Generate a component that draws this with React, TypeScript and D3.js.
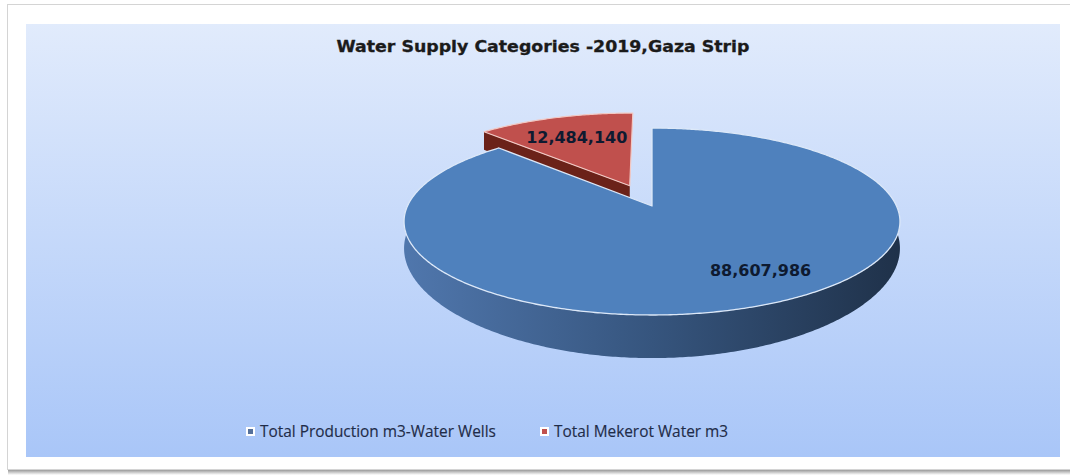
import React from 'react';
import * as d3 from 'd3';

// data
const categories = ['Total Production m3-Water Wells', 'Total Mekerot Water m3'];
const values = [88607986, 12484140];
const title = 'Water Supply Categories -2019,Gaza Strip';

const W = 1070;
const H = 475;

// projected-disc parameters (perspective look of the Excel 3D pie)
const cx = 652;
const cy = 206;
const A = 244.5;
const B = 90.9;
const k = 0.166;
const depth = 25;
const k2 = 0.42;

type Off = { u: number; v: number };

const proj = (theta: number, r: number, h: number, off: Off): [number, number] => {
  const u = off.u + r * Math.sin(theta);
  const v = off.v + r * Math.cos(theta);
  const w = 1 + k * v;
  return [cx + (A * u) / w, cy - (B * v) / w + (depth * h) / (1 + k2 * v)];
};

const arcPts = (a0: number, a1: number, h: number, off: Off) => {
  const n = Math.max(4, Math.ceil(Math.abs(a1 - a0) / 0.01));
  return d3.range(n + 1).map((i) => proj(a0 + ((a1 - a0) * i) / n, 1, h, off));
};

const line = d3.line<[number, number]>();

export default function App() {
  const pie = d3.pie<number>().sort(null)(values);
  const explode = [0, 0.25];
  const offs: Off[] = pie.map((p, i) => {
    const mid = (p.startAngle + p.endAngle) / 2;
    return { u: explode[i] * Math.sin(mid), v: explode[i] * Math.cos(mid) };
  });
  const color = d3.scaleOrdinal<number, string>().domain([0, 1]).range(['#4f81bd', '#c0504d']);
  const fmt = d3.format(',');

  const topPath = (i: number) => {
    const p = pie[i];
    const pts = [proj(0, 0, 0, offs[i]), ...arcPts(p.startAngle, p.endAngle, 0, offs[i])];
    return line(pts) + 'Z';
  };

  // front outer wall of the big slice
  const wallPath = (i: number) => {
    const p = pie[i];
    const a0 = Math.max(p.startAngle, Math.PI / 2);
    const a1 = Math.min(p.endAngle, (3 * Math.PI) / 2);
    if (a1 <= a0) return null;
    const pts = [...arcPts(a0, a1, 0, offs[i]), ...arcPts(a1, a0, 1, offs[i])];
    return line(pts) + 'Z';
  };

  // radial cut face of the exploded slice (start edge)
  const cutPath = (i: number) => {
    const p = pie[i];
    const a = p.startAngle;
    const pts = [
      proj(a, 0, 0, offs[i]),
      proj(a, 1, 0, offs[i]),
      proj(a, 1, 1, offs[i]),
      proj(a, 0, 1, offs[i]),
    ];
    return line(pts) + 'Z';
  };

  const labelPos = [
    proj((pie[0].startAngle + pie[0].endAngle) / 2 - 0.17, 0.75, 0, offs[0]),
    proj((pie[1].startAngle + pie[1].endAngle) / 2, 0.68, 0, offs[1]),
  ];

  const legendX = [247, 541];

  return (
    <svg width={W} height={H} style={{ position: 'absolute', left: 0, top: 0 }}>
      <defs>
        <linearGradient id="bg" x1="0" y1="0" x2="0" y2="1">
          <stop offset="0%" stopColor="#e1ebfc" />
          <stop offset="100%" stopColor="#a9c6f8" />
        </linearGradient>
        <linearGradient id="wall" gradientUnits="userSpaceOnUse" x1={cx - 250} y1="0" x2={cx + 250} y2="0">
          <stop offset="0%" stopColor="#5077ad" />
          <stop offset="50%" stopColor="#36557e" />
          <stop offset="100%" stopColor="#1f3149" />
        </linearGradient>
        <linearGradient id="shadow" x1="0" y1="0" x2="0" y2="1">
          <stop offset="0%" stopColor="#9a9a9a" />
          <stop offset="100%" stopColor="#ffffff" />
        </linearGradient>
      </defs>
      <rect x={0} y={0} width={W} height={H} fill="#ffffff" />
      <rect x={8} y={470} width={W - 8} height={5} fill="url(#shadow)" />
      <rect x={7.5} y={4.5} width={W - 6} height={465} fill="#ffffff" stroke="#d4d4d4" />
      <rect x={26} y={24} width={1034} height={433} fill="url(#bg)" />

      <text
        x={543}
        y={52}
        textAnchor="middle"
        fontFamily="'DejaVu Sans', sans-serif"
        fontWeight="bold"
        fontSize={15}
        textLength={413}
        lengthAdjust="spacingAndGlyphs"
        fill="#1b1b1b"
        stroke="#1b1b1b"
        strokeWidth={0.3}
      >
        {title}
      </text>

      {/* exploded slice behind */}
      <path d={cutPath(1)} fill="#6b2219" />
      <path d={topPath(1)} fill={color(1)} stroke="#f2c9c4" strokeWidth={1.2} strokeLinejoin="round" />

      {/* main slice */}
      {wallPath(0) && <path d={wallPath(0)!} fill="url(#wall)" />}
      <path d={topPath(0)} fill={color(0)} stroke="#dce8f8" strokeWidth={1.3} strokeLinejoin="round" />

      {pie.map((p, i) => (
        <text
          key={i}
          x={labelPos[i][0]}
          y={labelPos[i][1]}
          dy="0.35em"
          textAnchor="middle"
          fontFamily="'DejaVu Sans', sans-serif"
          fontWeight="bold"
          fontSize={16}
          fill="#0e1a30"
        >
          {fmt(p.data)}
        </text>
      ))}

      {categories.map((c, i) => (
        <g key={c} transform={`translate(${legendX[i]},432)`}>
          <rect x={-1} y={-5} width={9} height={9} fill="#ffffff" />
          <rect x={1} y={-3} width={5} height={5} fill={i === 0 ? '#55709a' : color(i)} />
          <text
            x={13}
            y={0}
            dy="0.35em"
            fontFamily="'Open Sans', sans-serif"
            fontSize={15.4}
            fill="#1f2c48"
            stroke="#1f2c48"
            strokeWidth={0.15}
          >
            {c}
          </text>
        </g>
      ))}
    </svg>
  );
}
